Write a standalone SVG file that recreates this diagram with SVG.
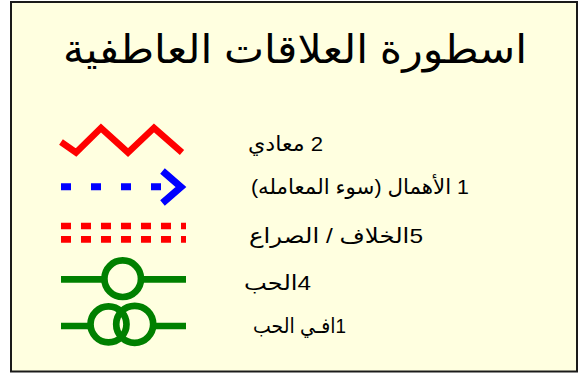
<svg xmlns="http://www.w3.org/2000/svg" width="582" height="373" viewBox="0 0 582 373">
  <style>
    .frame { fill: #FFFFE0; stroke: #1a1a1a; stroke-width: 2; }
    .title { font-family: "Liberation Sans", "DejaVu Sans", sans-serif; font-size: 40px; fill: #000; }
    .label { font-family: "Liberation Sans", "DejaVu Sans", sans-serif; font-size: 21px; fill: #000; }
    .sym { fill: none; stroke-linecap: butt; stroke-linejoin: miter; }
    .red { stroke: #FF0000; }
    .blue { stroke: #0000FF; }
    .green { stroke: #008000; }
    .ring { fill: #FFFFE0; stroke: none; }
  </style>
  <rect class="frame" x="11" y="2" width="566" height="369.5"/>
  <g id="title">
    <text class="title" x="63" y="63" textLength="464" lengthAdjust="spacingAndGlyphs">&#x202B;اسطورة العلاقات العاطفية&#x202C;</text>
  </g>
  <g id="hostile">
    <polyline class="sym red" stroke-width="6.5" points="61,142 76,152.5 101,128 128,152.5 154,128 182,152.5"/>
    <text class="label" x="248" y="150.5" textLength="75" lengthAdjust="spacingAndGlyphs">&#x202B;2 معادي&#x202C;</text>
  </g>
  <g id="abuse">
    <line class="sym blue" stroke-width="7" stroke-dasharray="10 20" x1="61" y1="186.7" x2="165" y2="186.7"/>
    <polyline class="sym blue" stroke-width="7" points="162.5,171 181,187 162.5,203"/>
    <text class="label" x="251" y="193.5" textLength="218" lengthAdjust="spacingAndGlyphs">&#x202B;1 الأهمال (سوء المعامله)&#x202C;</text>
  </g>
  <g id="conflict">
    <line class="sym red" stroke-width="6.7" stroke-dasharray="10 10" x1="61" y1="226" x2="186" y2="226"/>
    <line class="sym red" stroke-width="6.7" stroke-dasharray="10 10" x1="61" y1="239.3" x2="186" y2="239.3"/>
    <text class="label" x="249" y="243.3" textLength="174" lengthAdjust="spacingAndGlyphs">&#x202B;5الخلاف / الصراع&#x202C;</text>
  </g>
  <g id="love">
    <line class="sym green" stroke-width="6.7" x1="61" y1="279.3" x2="186" y2="279.3"/>
    <circle class="ring" cx="122.7" cy="278.7" r="18.3"/>
    <circle class="sym green" stroke-width="6.7" cx="122.7" cy="278.7" r="18.3"/>
    <text class="label" x="244" y="290" textLength="67" lengthAdjust="spacingAndGlyphs">&#x202B;4الحب&#x202C;</text>
  </g>
  <g id="in-love">
    <line class="sym green" stroke-width="6.7" x1="61" y1="326" x2="186" y2="326"/>
    <circle class="ring" cx="108.5" cy="324.3" r="18"/>
    <circle class="ring" cx="134.7" cy="324.3" r="18.5"/>
    <circle class="sym green" stroke-width="6.7" cx="108.5" cy="324.3" r="18"/>
    <circle class="sym green" stroke-width="6.7" cx="134.7" cy="324.3" r="18.5"/>
    <text class="label" x="253" y="333" textLength="93" lengthAdjust="spacingAndGlyphs">&#x202B;1افـي الحب&#x202C;</text>
  </g>
  <g id="connectors"/>
</svg>
